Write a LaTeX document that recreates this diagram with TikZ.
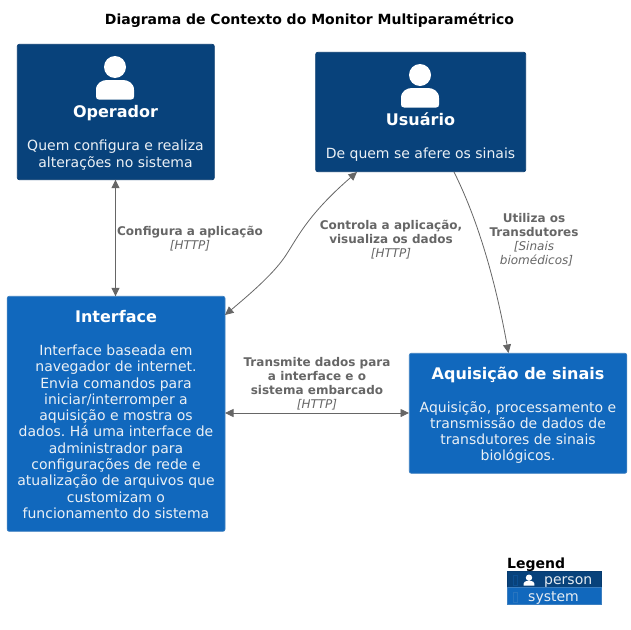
\documentclass[tikz,border=0pt]{standalone}
\usepackage{fontspec}
\setmainfont{DejaVu Sans}
\frenchspacing
\definecolor{personc}{HTML}{08427B}
\definecolor{personl}{HTML}{073B6F}
\definecolor{sysc}{HTML}{1168BD}
\definecolor{sysl}{HTML}{3C7FC0}
\definecolor{edgec}{HTML}{666666}
\usetikzlibrary{arrows.meta}
\tikzset{
  x=1pt,y=-1pt,
  box/.style={draw=#1,line width=.7pt,rounded corners=2pt,inner sep=0pt,outer sep=0pt,anchor=north west},
  person/.style={box=personl,fill=personc},
  sys/.style={box=sysl,fill=sysc},
  ttl/.style={text=white,font=\fontsize{16}{20}\selectfont\bfseries,inner sep=0pt,anchor=base},
  body/.style={text=white!92!personc,font=\fontsize{14}{16.3}\selectfont\frenchspacing,align=center,inner sep=0pt},
  edgelbl/.style={text=edgec,font=\fontsize{12}{14}\selectfont,align=center,inner sep=0pt},
  conn/.style={draw=edgec,line width=.8pt,{Triangle[length=8.5pt,width=8pt]}-{Triangle[length=8.5pt,width=8pt]}},
  conn1/.style={draw=edgec,line width=.8pt,-{Triangle[length=8.5pt,width=8pt]}},
  icon/.pic={\fill[white] (0,-12) circle (11);
    \fill[white] (-19,17.5) -- (-19,11) .. controls (-19,4) and (-13,1) .. (-8,1) -- (8,1) .. controls (13,1) and (19,4) .. (19,11) -- (19,17.5) .. controls (19,19.5) and (18,20.5) .. (16,20.5) -- (-16,20.5) .. controls (-18,20.5) and (-19,19.5) .. (-19,17.5) -- cycle;},
  smallicon/.pic={\fill[white] (0,-2.3) circle (3.2);
    \fill[white] (-5.3,5.7) -- (-5.3,3.5) .. controls (-5.3,2) and (-3.5,1) .. (-2,1) -- (2,1) .. controls (3.5,1) and (5.3,2) .. (5.3,3.5) -- (5.3,5.7) -- cycle;},
}
\newcommand{\ital}[1]{{\itshape #1}}
\begin{document}
\begin{tikzpicture}
\useasboundingbox (0,0) rectangle (631,629);
\node[font=\fontsize{14}{16}\selectfont\bfseries,inner sep=0pt] (title) at (309.5,20) {Diagrama de Contexto do Monitor Multiparamétrico};

\node[person,minimum width=197pt,minimum height=135.4pt] (op) at (17.3,44.3) {};
\pic at (115,79) {icon};
\node[ttl] (opt) at (115.5,117) {Operador};
\node[body] (opd) at (115.5,155) {Quem configura e realiza\\alterações no sistema};

\node[person,minimum width=210pt,minimum height=119.4pt] (us) at (315.7,52.3) {};
\pic at (420,87) {icon};
\node[ttl] (ust) at (420.5,125) {Usuário};
\node[body] (usd) at (420.5,155) {De quem se afere os sinais};

\node[sys,minimum width=217.8pt,minimum height=235pt] (if) at (7.2,296.3) {};
\node[ttl] (ift) at (116,322) {Interface};
\node[body] (ifd) at (116,431.7) {Interface baseada em\\navegador de internet.\\Envia comandos para\\iniciar/interromper a\\aquisição e mostra os\\dados. Há uma interface de\\administrador para\\configurações de rede e\\atualização de arquivos que\\customizam o\\funcionamento do sistema};

\node[sys,minimum width=217.5pt,minimum height=120pt] (aq) at (409.3,353.3) {};
\node[ttl] (aqt) at (518,379) {Aquisição de sinais};
\node[body] (aqd) at (518,432.5) {Aquisição, processamento e\\transmissão de dados de\\transdutores de sinais\\biológicos.};

\coordinate (opb) at (115.5,180);
\draw[conn] (op.south -| opb) -- (if.north -| opb);
\node[edgelbl] (l1) at (190,239) {\textbf{Configura a aplicação}\\\ital{[HTTP]}};

\coordinate (usa) at (357,172);
\coordinate (ifa) at (225,315);
\draw[conn] (ifa) .. controls (250,294) and (272,275) .. (284,258) .. controls (296,241) and (305,217) .. (usa);
\node[edgelbl] (l2) at (391,239.5) {\textbf{Controla a aplicação,}\\\textbf{visualiza os dados}\\\ital{[HTTP]}};

\coordinate (usb) at (454,172);
\coordinate (aqa) at (508.5,353);
\draw[conn1] (usb) .. controls (482,228) and (498,295) .. (aqa);
\node[edgelbl] (l3) at (534,240) {\textbf{Utiliza os}\\\textbf{Transdutores}\\\ital{[Sinais}\\\hspace*{5pt}\ital{biomédicos]}};

\coordinate (ifb) at (225,413);
\coordinate (aqb) at (409,413);
\draw[conn] (ifb) -- (aqb);
\node[edgelbl] (l4) at (317,383.5) {\textbf{Transmite dados para}\\\textbf{a interface e o}\\\textbf{sistema embarcado}\\\ital{[HTTP]}};

\node[font=\fontsize{14}{16}\selectfont\bfseries,inner sep=0pt,anchor=base west] (lg) at (507,568) {Legend};
\node[draw=personl,fill=personc,line width=.4pt,inner sep=0pt,outer sep=0pt,anchor=north west,minimum width=94.3pt,minimum height=16pt] (lp) at (507,571.3) {};
\node[draw=sysl,fill=sysc,line width=.4pt,inner sep=0pt,outer sep=0pt,anchor=north west,minimum width=94.3pt,minimum height=16.4pt] (ls) at (507,587.3) {};
\pic at (529,580) {smallicon};
\node[text=white!90!personc,font=\fontsize{14}{16}\selectfont,inner sep=0pt,anchor=base west] (lpt) at (544,584.5) {person};
\node[text=white!90!personc,font=\fontsize{14}{16}\selectfont,inner sep=0pt,anchor=base west] (lst) at (528,601) {system};
\draw[sysc!35!personc,line width=.5pt] (512.9,575.3) rectangle (517,585);
\draw[sysl!55!sysc,line width=.5pt] (512.9,592.5) rectangle (517,602);
\end{tikzpicture}
\end{document}
